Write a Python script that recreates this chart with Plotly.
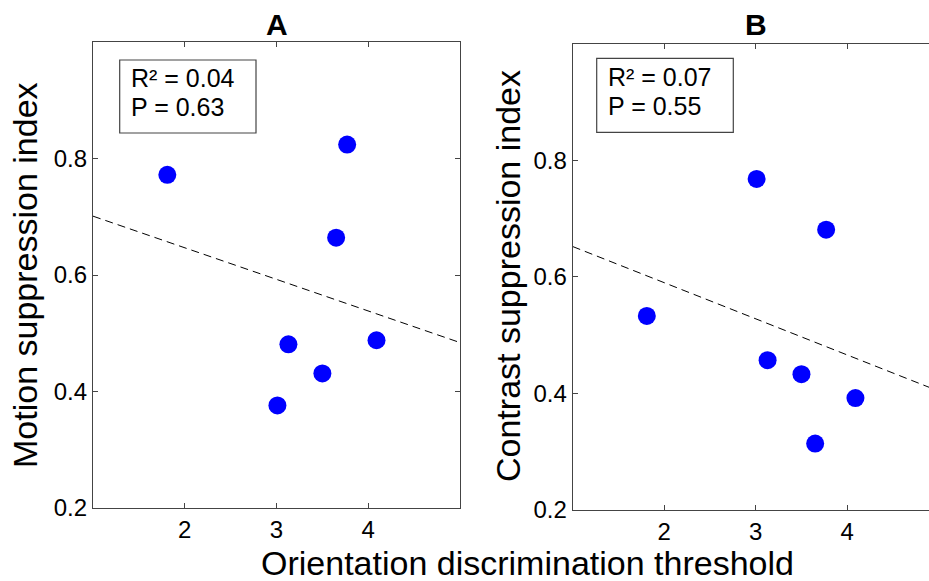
import plotly.graph_objects as go

W, H = 929, 581

# ---- data ----
threshold = [1.81, 3.01, 3.13, 3.50, 3.65, 3.77, 4.09]
motion_si = [0.772, 0.376, 0.481, 0.431, 0.664, 0.824, 0.488]
contrast_si = [0.533, 0.768, 0.457, 0.433, 0.314, 0.681, 0.392]

fit_x = [1.0, 5.0]
fit_motion = [0.701, 0.484]
fit_contrast = [0.652, 0.404]

panel_titles = ["A", "B"]
r2_vals = ["0.04", "0.07"]
p_vals = ["0.63", "0.55"]

x_ticks = [2, 3, 4]
y_ticks = [0.2, 0.4, 0.6, 0.8]
x_range_A = [1, 5]
x_range_B = [1, 4.894]
y_range = [0.2, 1.0]

FONT = "Liberation Sans, Arial, Helvetica, sans-serif"
AXIS_COL = "#444444"

def px(x):
    return x / W

def py(y):
    return 1 - y / H

fig = go.Figure()

fig.add_trace(go.Scatter(x=fit_x, y=fit_motion, mode="lines",
                         line=dict(color="black", width=1, dash="8px,5px"),
                         xaxis="x", yaxis="y", showlegend=False))
fig.add_trace(go.Scatter(x=threshold, y=motion_si, mode="markers",
                         marker=dict(color="#0000ff", size=18, line=dict(width=0)),
                         xaxis="x", yaxis="y", showlegend=False))
fig.add_trace(go.Scatter(x=fit_x, y=fit_contrast, mode="lines",
                         line=dict(color="black", width=1, dash="8px,5px"),
                         xaxis="x2", yaxis="y2", showlegend=False))
fig.add_trace(go.Scatter(x=threshold, y=contrast_si, mode="markers",
                         marker=dict(color="#0000ff", size=18, line=dict(width=0)),
                         xaxis="x2", yaxis="y2", showlegend=False))

axis_common = dict(showgrid=False, zeroline=False, showline=True, automargin=False,
                   linecolor=AXIS_COL, linewidth=1.2,
                   ticks="inside", ticklen=5, tickcolor=AXIS_COL, tickwidth=1,
                   tickfont=dict(family=FONT, size=24, color="black"))

fig.update_layout(
    width=W, height=H,
    margin=dict(l=0, r=0, t=0, b=0),
    paper_bgcolor="white", plot_bgcolor="white",
    xaxis=dict(domain=[px(93), px(460)], range=x_range_A, tickvals=x_ticks,
               anchor="y", mirror="ticks", **axis_common),
    yaxis=dict(domain=[py(508), py(42)], range=y_range, tickvals=y_ticks,
               anchor="x", mirror="ticks", **axis_common),
    xaxis2=dict(domain=[px(572.7), 1.0], range=x_range_B, tickvals=x_ticks,
                anchor="y2", mirror="ticks", **axis_common),
    yaxis2=dict(domain=[py(510), py(43.7)], range=y_range, tickvals=y_ticks,
                anchor="x2", mirror=False, **axis_common),
)

# Text boxes
boxes = [(119.7, 60, 256, 133), (596.7, 58.3, 733.3, 132.3)]
for (x0, y0, x1, y1) in boxes:
    fig.add_shape(type="rect", xref="paper", yref="paper",
                  x0=px(x0), x1=px(x1), y0=py(y1), y1=py(y0),
                  line=dict(color=AXIS_COL, width=1.2), fillcolor="rgba(0,0,0,0)")

text_pos = [(129, 78, 106.7), (606, 77.2, 106)]
for i, (tx, ry, pyy) in enumerate(text_pos):
    fig.add_annotation(x=px(tx), y=py(ry), xref="paper", yref="paper",
                       text=f"R² = {r2_vals[i]}", showarrow=False,
                       xanchor="left", yanchor="middle",
                       font=dict(family=FONT, size=25, color="black"))
    fig.add_annotation(x=px(tx), y=py(pyy), xref="paper", yref="paper",
                       text=f"P = {p_vals[i]}", showarrow=False,
                       xanchor="left", yanchor="middle",
                       font=dict(family=FONT, size=25, color="black"))

# Panel titles
for i, xr in enumerate(["x", "x2"]):
    fig.add_annotation(x=3, y=py(24), xref=xr, yref="paper",
                       text=f"<b>{panel_titles[i]}</b>", showarrow=False,
                       xanchor="center", yanchor="middle",
                       font=dict(family=FONT, size=30, color="black"))

# Axis titles
fig.add_annotation(x=px(25), y=py(275), xref="paper", yref="paper",
                   text="Motion suppression index", textangle=-90, showarrow=False,
                   xanchor="center", yanchor="middle",
                   font=dict(family=FONT, size=34, color="black"))
fig.add_annotation(x=px(508), y=py(276), xref="paper", yref="paper",
                   text="Contrast suppression index", textangle=-90, showarrow=False,
                   xanchor="center", yanchor="middle",
                   font=dict(family=FONT, size=34, color="black"))
fig.add_annotation(x=px(527), y=py(563), xref="paper", yref="paper",
                   text="Orientation discrimination threshold", showarrow=False,
                   xanchor="center", yanchor="middle",
                   font=dict(family=FONT, size=34, color="black"))

fig.write_html("out.html")
